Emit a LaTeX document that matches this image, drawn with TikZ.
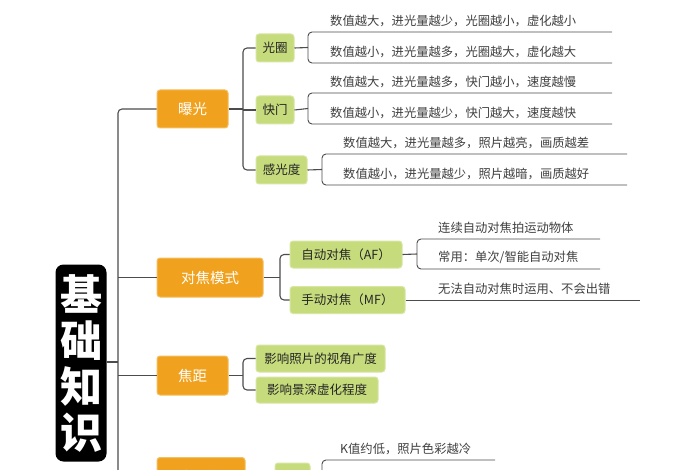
\documentclass[tikz,border=0pt]{standalone}
\usepackage{fontspec}
\setmainfont{Noto Sans CJK SC}
\begin{document}
\begin{tikzpicture}[x=1pt,y=-1pt,
  orange/.style={fill=orangec,draw=orangec!70!white,line width=1pt,rounded corners=3pt,text=white,font=\fontsize{14.5}{16}\selectfont,inner sep=0pt},
  green/.style={fill=greenc,draw=greenc!70!white,line width=1pt,rounded corners=3pt,text=black!85,font=\fontsize{12.5}{14}\selectfont,inner sep=0pt},
  leaf/.style={text=black!75,font=\fontsize{12.3}{14}\selectfont,inner sep=0pt,anchor=south west},
  ln/.style={draw=black!70,line width=1.1pt,rounded corners=4pt},
  ul/.style={draw=black!70,line width=0.9pt}]
\definecolor{orangec}{HTML}{F0A21E}
\definecolor{greenc}{HTML}{C6DB7C}
\useasboundingbox (0,0) rectangle (700,470);
\fill[white] (0,0) rectangle (700,470);
% root
\node[fill=black,rounded corners=8pt,minimum width=51pt,minimum height=197pt,text=white,font=\fontsize{42}{46}\bfseries\selectfont,align=center,inner sep=0pt] (root) at (81,363) {基\\础\\知\\识};
\coordinate (m) at (118,362);
\draw[ln] (root.east|-m) -- (m);
% orange
\node[orange,minimum width=71pt,minimum height=38pt] (bg) at (192.5,109) {曝光};
\node[orange,minimum width=106pt,minimum height=39pt] (dj) at (210,277.5) {对焦模式};
\node[orange,minimum width=71pt,minimum height=39pt] (jj) at (192.5,375.5) {焦距};
\node[orange,minimum width=88pt,minimum height=39pt] (bph) at (201,477) {白平衡};
\draw[ln] (bg.west) -- (118,109) -- (118,475);
\draw[ln] (dj.west) -- (118,277.5);
\draw[ln] (jj.west) -- (118,375.5);
\draw[ln] (bph.west) -- (118,477);
% exposure children
\node[green,minimum width=38pt,minimum height=28pt] (gq) at (275,48) {光圈};
\node[green,minimum width=38pt,minimum height=28pt] (km) at (275,110) {快门};
\node[green,minimum width=51pt,minimum height=28pt] (gg) at (281.5,170) {感光度};
\draw[ln] (bg.east) -- (243,109);
\draw[ln] (gq.west) -- (243,48) -- (243,170) -- (gg.west);
\draw[ln] (km.west) -- (243,110);
% leaves: node, bracket x, top y, bottom y, end x, text x, text1, text2
\newcommand{\pairleaf}[8]{%
  \draw[ln] (#1.east) -- (#2,#3/2+#4/2);
  \draw[ul,rounded corners=4pt] (#5,#3) -- (#2,#3) -- (#2,#4) -- (#5,#4);
  \node[leaf] at (#6,#3-5) {#7};
  \node[leaf] at (#6,#4-5) {#8};}
\pairleaf{gq}{308}{32}{63}{612}{330}{数值越大，进光量越少，光圈越小，虚化越小}{数值越小，进光量越多，光圈越大，虚化越大}
\pairleaf{km}{308}{93}{124}{612}{330}{数值越大，进光量越多，快门越小，速度越慢}{数值越小，进光量越少，快门越大，速度越快}
\pairleaf{gg}{322}{154}{185}{627}{343}{数值越大，进光量越多，照片越亮，画质越差}{数值越小，进光量越少，照片越暗，画质越好}
% focus mode
\node[green,minimum width=112pt,minimum height=27pt] (af) at (346,254.5) {自动对焦（AF）};
\node[green,minimum width=115pt,minimum height=27pt] (mf) at (347.5,300) {手动对焦（MF）};
\draw[ln] (dj.east) -- (280,277.5);
\draw[ln] (af.west) -- (280,254.5) -- (280,300) -- (mf.west);
\pairleaf{af}{417}{239}{269}{600}{438}{连续自动对焦拍运动物体}{常用：单次/智能自动对焦}
\draw[ul] (mf.east) -- (640,300);
\node[leaf] at (438,295) {无法自动对焦时运用、不会出错};
% focal length
\node[green,minimum width=129pt,minimum height=27pt] (f1) at (320.5,358.5) {影响照片的视角广度};
\node[green,minimum width=122pt,minimum height=26pt] (f2) at (317,390) {影响景深虚化程度};
\draw[ln] (jj.east) -- (243,375.5);
\draw[ln] (f1.west) -- (243,358.5) -- (243,390) -- (f2.west);
% white balance
\node[green,minimum width=35pt,minimum height=28pt] (wb) at (292.5,477) {色温};
\draw[ln] (bph.east) -- (wb.west);
\draw[ln] (wb.east) -- (322,477);
\draw[ul,rounded corners=4pt] (495,460) -- (322,460) -- (322,490);
\node[leaf] at (340,455) {K值约低，照片色彩越冷};
\end{tikzpicture}
\end{document}
